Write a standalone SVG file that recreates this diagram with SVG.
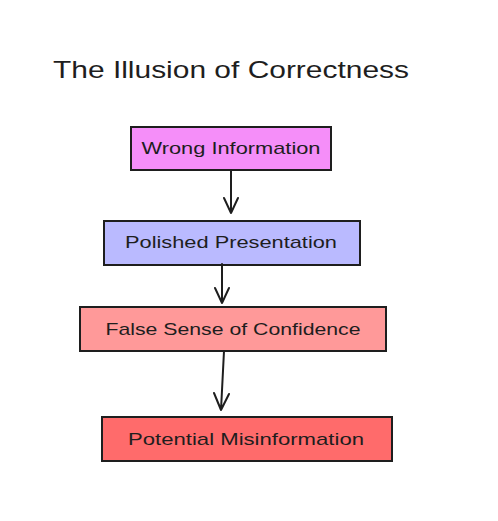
<svg xmlns="http://www.w3.org/2000/svg" width="498" height="521" viewBox="0 0 498 521">
<style>
.box{stroke:#1e1e1e;stroke-width:2;}
.lbl{font-family:"Liberation Sans",Arial,sans-serif;font-size:17px;fill:#1e1e1e;text-anchor:middle;dominant-baseline:central;}
.ttl{font-family:"Liberation Sans",Arial,sans-serif;font-size:24px;fill:#1e1e1e;}
.edge{stroke:#1e1e1e;stroke-width:2;fill:none;stroke-linecap:round;stroke-linejoin:round;}
</style>
<rect width="498" height="521" fill="#ffffff"/>
<text class="ttl" x="53" y="78" textLength="356" lengthAdjust="spacingAndGlyphs">The Illusion of Correctness</text>
<g id="n1">
<rect class="box" x="131" y="127" width="200" height="43" fill="#f58ef9"/>
<text class="lbl" x="231" y="148" textLength="179" lengthAdjust="spacingAndGlyphs">Wrong Information</text>
</g>
<g id="n2">
<rect class="box" x="104" y="221" width="256" height="44" fill="#babaff"/>
<text class="lbl" x="231" y="242" textLength="212" lengthAdjust="spacingAndGlyphs">Polished Presentation</text>
</g>
<g id="n3">
<rect class="box" x="80" y="307" width="306" height="44" fill="#ff9999"/>
<text class="lbl" x="233" y="329" textLength="255" lengthAdjust="spacingAndGlyphs">False Sense of Confidence</text>
</g>
<g id="n4">
<rect class="box" x="102" y="417" width="290" height="44" fill="#ff6b6b"/>
<text class="lbl" x="246" y="439" textLength="236" lengthAdjust="spacingAndGlyphs">Potential Misinformation</text>
</g>
<g id="edges">
<path class="edge" d="M231 170 L231 213 M224 198 L231 213 L238 198"/>
<path class="edge" d="M222 264 L222 303 M215 288 L222 303 L229 288"/>
<path class="edge" d="M224 351 L221 410 M214 393 L221 410 L229 394"/>
</g>
</svg>
